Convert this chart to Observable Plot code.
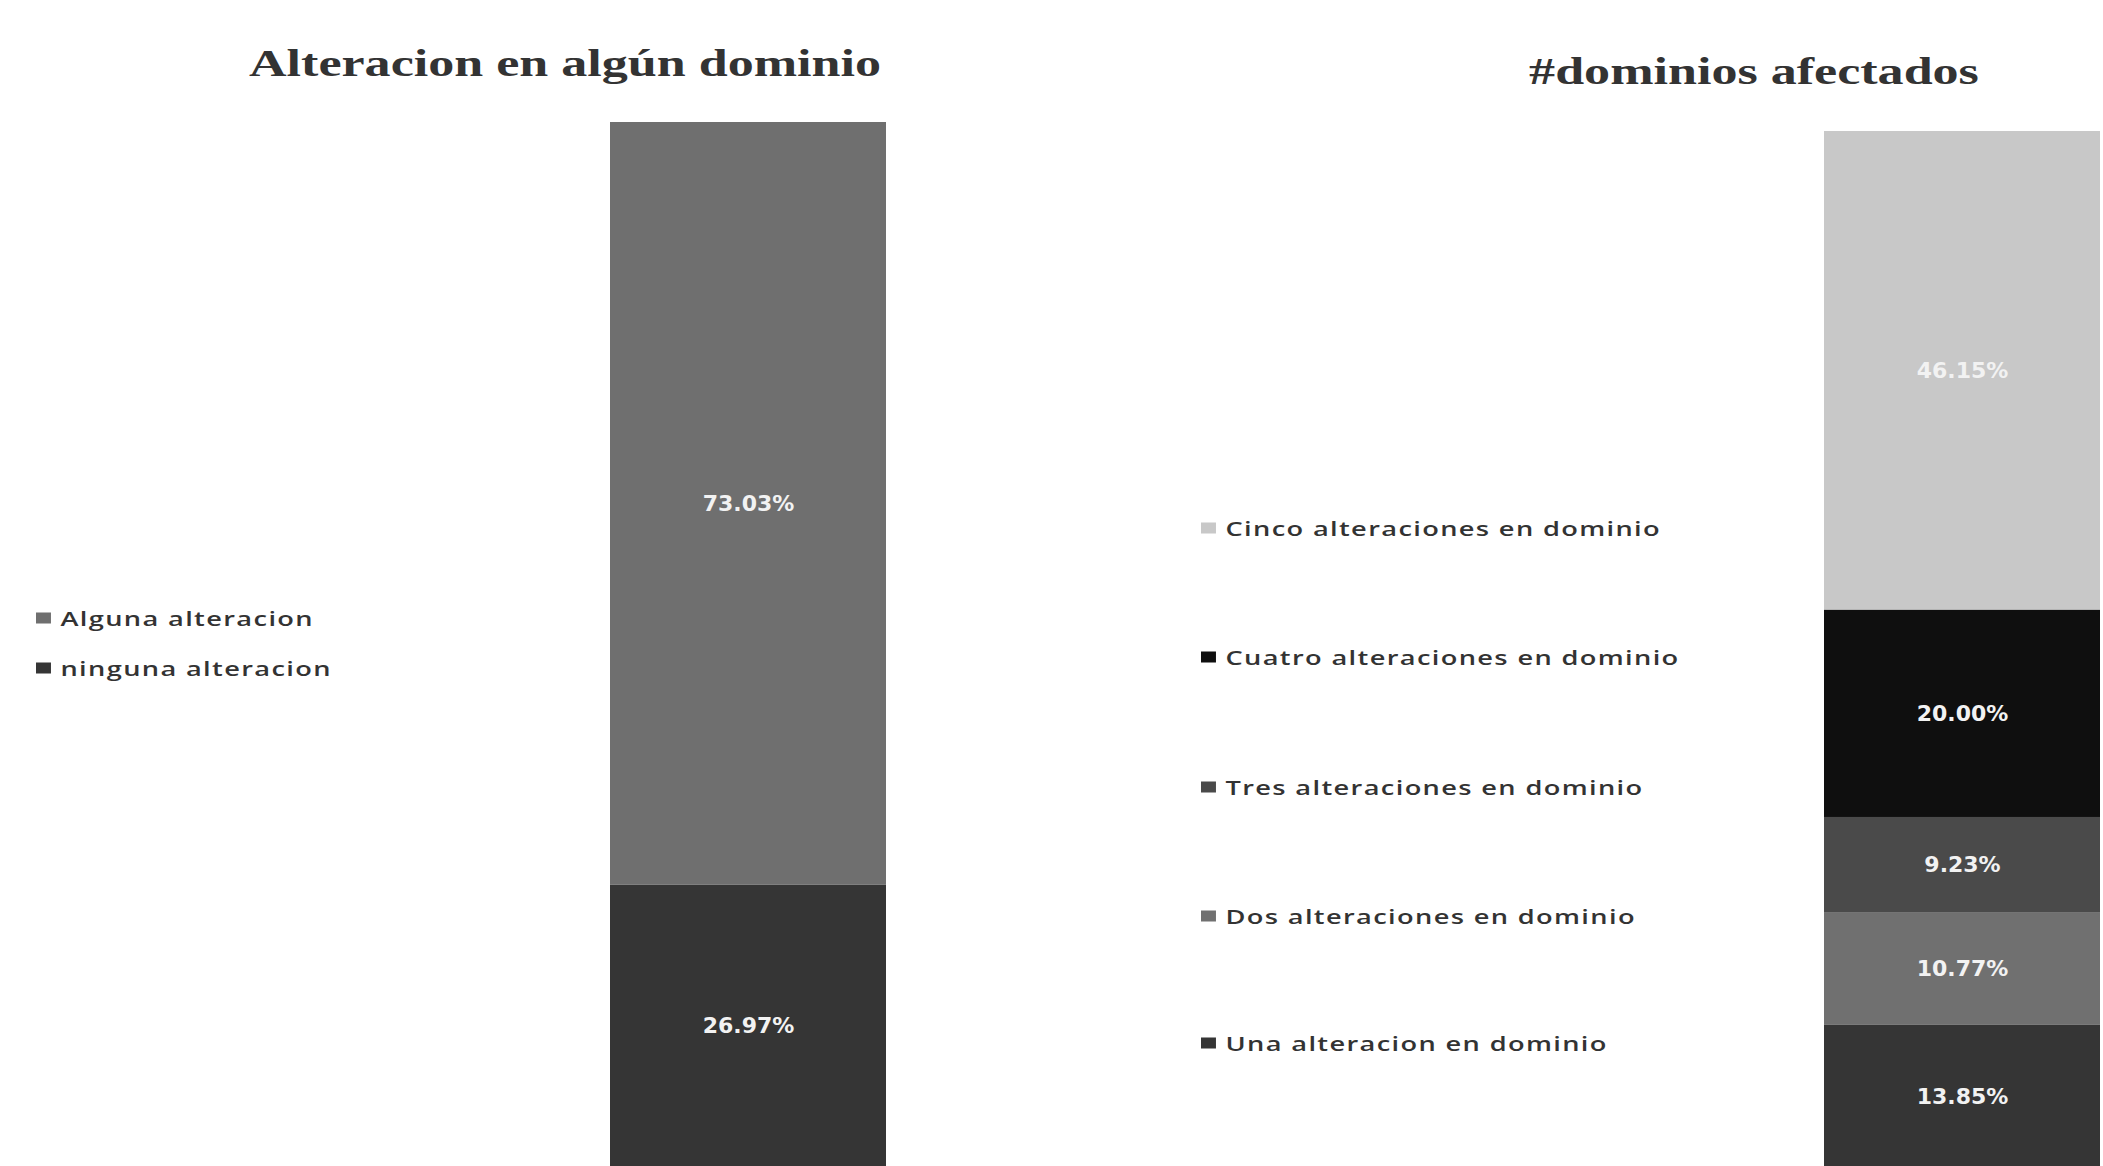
<!DOCTYPE html>
<html>
<head>
<meta charset="utf-8">
<script src="https://cdn.jsdelivr.net/npm/d3@7"></script>
<script src="https://cdn.jsdelivr.net/npm/@observablehq/plot@0.6"></script>
<style>
  html, body { margin: 0; padding: 0; background: #fff; }
  #root { position: relative; width: 2103px; height: 1166px; overflow: hidden; background: #fff; }
  .title { position: absolute; font-family: "Liberation Serif", "DejaVu Serif", serif; font-weight: bold; font-size: 38px; color: #333; white-space: nowrap; transform: translate(-50%, -50%) scaleX(1.37); }
  .legend { position: absolute; font-family: "Open Sans", sans-serif; font-weight: 600; font-size: 20px; letter-spacing: 1px; color: #333; white-space: nowrap; display: flex; align-items: center; transform: translateY(-50%) scaleX(1.36); transform-origin: left center; }
  .sw { display: inline-block; width: 11px; height: 11px; margin-right: 7px; }
  .chart { position: absolute; }
</style>
</head>
<body>
<div id="root"></div>
<script>
// Left chart: any alteration
const leftCategories = ["ninguna alteracion", "Alguna alteracion"]; // bottom to top
const leftValues = [26.97, 73.03];
const leftColors = ["#353535", "#6f6f6f"];
const leftLegendOrder = ["Alguna alteracion", "ninguna alteracion"];
const leftTitle = "Alteracion en algún dominio";

// Right chart: number of affected domains
const rightCategories = ["Una alteracion en dominio", "Dos alteraciones en dominio", "Tres alteraciones en dominio", "Cuatro alteraciones en dominio", "Cinco alteraciones en dominio"]; // bottom to top
const rightValues = [13.85, 10.77, 9.23, 20.00, 46.15];
const rightColors = ["#353535", "#707070", "#4a4a4a", "#0f0f0f", "#c8c8c8"];
const rightLegendOrder = ["Cinco alteraciones en dominio", "Cuatro alteraciones en dominio", "Tres alteraciones en dominio", "Dos alteraciones en dominio", "Una alteracion en dominio"];
const rightTitle = "#dominios afectados";

const root = document.getElementById("root");

function stackedBar(categories, values, colors, w, h) {
  const data = categories.map((c, i) => ({bar: "all", cat: c, v: values[i]}));
  return Plot.plot({
    width: w, height: h,
    margin: 0,
    x: {domain: ["all"], padding: 0, axis: null},
    y: {domain: [0, 100], axis: null},
    color: {domain: categories, range: colors},
    marks: [
      Plot.barY(data, {x: "bar", y: "v", fill: "cat", z: "cat", inset: 0}),
      Plot.text(data, Plot.stackY({x: "bar", y: "v", z: "cat", text: d => d.v.toFixed(2) + "%",
        fill: "#f2f2f2", fontSize: 22, fontWeight: "bold", fontFamily: "DejaVu Sans, sans-serif", letterSpacing: 3.5}))
    ],
    style: {background: "transparent", overflow: "visible"}
  });
}

function place(el, left, top) {
  el.classList.add("chart");
  el.style.left = left + "px";
  el.style.top = top + "px";
  root.appendChild(el);
}

function addTitle(text, cx, cy) {
  const d = document.createElement("div");
  d.className = "title";
  d.textContent = text;
  d.style.left = cx + "px";
  d.style.top = cy + "px";
  root.appendChild(d);
}

function addLegend(items, cats, colors, x, ys) {
  items.forEach((name, i) => {
    const d = document.createElement("div");
    d.className = "legend";
    d.style.left = x + "px";
    d.style.top = ys[i] + "px";
    const s = document.createElement("span");
    s.className = "sw";
    s.style.background = colors[cats.indexOf(name)];
    d.appendChild(s);
    d.appendChild(document.createTextNode(name));
    root.appendChild(d);
  });
}

place(stackedBar(leftCategories, leftValues, leftColors, 276, 1044), 610, 122);
place(stackedBar(rightCategories, rightValues, rightColors, 276, 1037), 1824, 131);

addTitle(leftTitle, 565, 63);
addTitle(rightTitle, 1754, 71);

addLegend(leftLegendOrder, leftCategories, leftColors, 36, [618, 668]);
addLegend(rightLegendOrder, rightCategories, rightColors, 1201, [528, 657, 787, 916, 1043]);
</script>
</body>
</html>
